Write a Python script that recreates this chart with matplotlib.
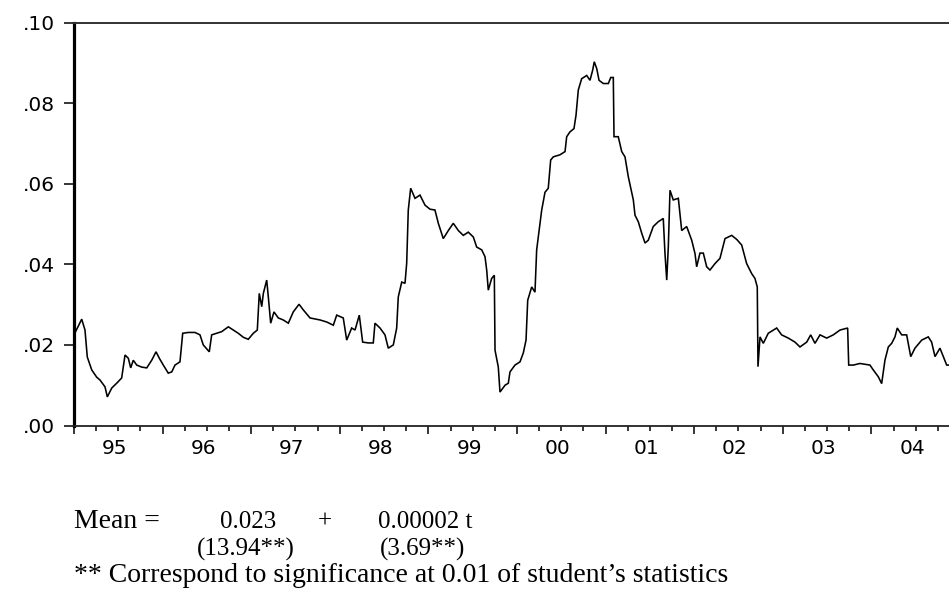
import matplotlib
matplotlib.use("Agg")
import matplotlib.pyplot as plt
import matplotlib.transforms as mtransforms
import numpy as np

# fractional years
t_years = [
    1995.000, 1995.087, 1995.124, 1995.150, 1995.200, 1995.256, 1995.293, 1995.350,
    1995.376, 1995.426, 1995.482, 1995.538, 1995.576, 1995.613, 1995.640, 1995.669,
    1995.708, 1995.764, 1995.821, 1995.877, 1995.926, 1995.963, 1996.008, 1996.064,
    1996.103, 1996.140, 1996.196, 1996.227, 1996.290, 1996.366, 1996.422, 1996.459,
    1996.527, 1996.554, 1996.611, 1996.667, 1996.742, 1996.798, 1996.854, 1996.911,
    1996.967, 1997.024, 1997.069, 1997.091, 1997.119, 1997.137, 1997.175, 1997.193,
    1997.220, 1997.257, 1997.306, 1997.362, 1997.419, 1997.475, 1997.540, 1997.588,
    1997.664, 1997.777, 1997.852, 1997.927, 1997.965, 1998.039, 1998.078, 1998.134,
    1998.172, 1998.220, 1998.258, 1998.322, 1998.378, 1998.397, 1998.454, 1998.510,
    1998.547, 1998.604, 1998.642, 1998.660, 1998.699, 1998.736, 1998.755, 1998.773,
    1998.800, 1998.849, 1998.905, 1998.962, 1999.018, 1999.074, 1999.112, 1999.168,
    1999.225, 1999.281, 1999.338, 1999.394, 1999.450, 1999.507, 1999.545, 1999.602,
    1999.639, 1999.658, 1999.676, 1999.714, 1999.744, 1999.752, 1999.789, 1999.808,
    1999.865, 1999.902, 1999.921, 1999.977, 2000.034, 2000.071, 2000.102, 2000.121,
    2000.166, 2000.203, 2000.222, 2000.260, 2000.279, 2000.316, 2000.353, 2000.380,
    2000.410, 2000.485, 2000.542, 2000.561, 2000.598, 2000.643, 2000.666, 2000.692,
    2000.730, 2000.787, 2000.824, 2000.854, 2000.872, 2000.900, 2000.926, 2000.974,
    2001.031, 2001.058, 2001.087, 2001.095, 2001.143, 2001.182, 2001.219, 2001.256,
    2001.313, 2001.332, 2001.369, 2001.407, 2001.445, 2001.482, 2001.538, 2001.595,
    2001.651, 2001.670, 2001.690, 2001.708, 2001.727, 2001.764, 2001.821, 2001.859,
    2001.915, 2001.972, 2002.009, 2002.028, 2002.065, 2002.103, 2002.141, 2002.178,
    2002.235, 2002.291, 2002.348, 2002.423, 2002.480, 2002.536, 2002.592, 2002.649,
    2002.686, 2002.712, 2002.720, 2002.743, 2002.780, 2002.836, 2002.931, 2002.987,
    2003.062, 2003.138, 2003.194, 2003.270, 2003.315, 2003.363, 2003.420, 2003.495,
    2003.570, 2003.646, 2003.732, 2003.744, 2003.796, 2003.871, 2003.984, 2004.021,
    2004.078, 2004.116, 2004.153, 2004.191, 2004.229, 2004.266, 2004.292, 2004.342,
    2004.398, 2004.444, 2004.492, 2004.568, 2004.642, 2004.680, 2004.718, 2004.774,
    2004.812, 2004.850, 2004.876,
]

values = [
    0.0225, 0.0264, 0.0237, 0.0170, 0.0138, 0.0120, 0.0113, 0.0096,
    0.0071, 0.0093, 0.0105, 0.0118, 0.0175, 0.0167, 0.0143, 0.0162,
    0.0150, 0.0145, 0.0143, 0.0162, 0.0183, 0.0167, 0.0150, 0.0130,
    0.0133, 0.0150, 0.0158, 0.0229, 0.0231, 0.0231, 0.0225, 0.0200,
    0.0183, 0.0225, 0.0229, 0.0233, 0.0245, 0.0237, 0.0229, 0.0219,
    0.0214, 0.0229, 0.0237, 0.0328, 0.0295, 0.0328, 0.0361, 0.0320,
    0.0254, 0.0282, 0.0267, 0.0262, 0.0254, 0.0282, 0.0301, 0.0287,
    0.0267, 0.0262, 0.0257, 0.0249, 0.0274, 0.0267, 0.0212, 0.0242,
    0.0237, 0.0274, 0.0207, 0.0205, 0.0205, 0.0254, 0.0242, 0.0225,
    0.0192, 0.0200, 0.0242, 0.0319, 0.0356, 0.0353, 0.0403, 0.0535,
    0.0589, 0.0564, 0.0572, 0.0547, 0.0537, 0.0535, 0.0502, 0.0464,
    0.0484, 0.0502, 0.0484, 0.0472, 0.0480, 0.0468, 0.0443, 0.0436,
    0.0419, 0.0386, 0.0336, 0.0365, 0.0373, 0.0187, 0.0145, 0.0083,
    0.0100, 0.0105, 0.0133, 0.0150, 0.0158, 0.0180, 0.0212, 0.0311,
    0.0344, 0.0331, 0.0436, 0.0502, 0.0535, 0.0579, 0.0589, 0.0659,
    0.0667, 0.0672, 0.0680, 0.0717, 0.0729, 0.0737, 0.0770, 0.0833,
    0.0861, 0.0869, 0.0857, 0.0882, 0.0903, 0.0886, 0.0857, 0.0849,
    0.0849, 0.0864, 0.0864, 0.0717, 0.0717, 0.0680, 0.0667, 0.0618,
    0.0560, 0.0522, 0.0506, 0.0478, 0.0453, 0.0460, 0.0494, 0.0506,
    0.0514, 0.0428, 0.0361, 0.0444, 0.0584, 0.0560, 0.0564, 0.0484,
    0.0494, 0.0460, 0.0427, 0.0394, 0.0428, 0.0428, 0.0394, 0.0386,
    0.0402, 0.0415, 0.0464, 0.0472, 0.0462, 0.0448, 0.0402, 0.0377,
    0.0365, 0.0344, 0.0146, 0.0220, 0.0204, 0.0229, 0.0242, 0.0225,
    0.0217, 0.0207, 0.0195, 0.0207, 0.0225, 0.0204, 0.0225, 0.0217,
    0.0225, 0.0237, 0.0242, 0.0150, 0.0150, 0.0154, 0.0150, 0.0138,
    0.0121, 0.0104, 0.0162, 0.0195, 0.0204, 0.0220, 0.0242, 0.0225,
    0.0225, 0.0171, 0.0192, 0.0212, 0.0220, 0.0207, 0.0171, 0.0192,
    0.0171, 0.0150, 0.0150,
]

years = list(range(1995, 2005))
year_labels = ["95", "96", "97", "98", "99", "00", "01", "02", "03", "04"]
y_ticks = [0.00, 0.02, 0.04, 0.06, 0.08, 0.10]
y_labels = [".00", ".02", ".04", ".06", ".08", ".10"]

line1_parts = ["Mean =", "0.023", "+", "0.00002 t"]
line2_parts = ["(13.94**)", "(3.69**)"]
footnote = "** Correspond to significance at 0.01 of student\u2019s statistics"

W, H = 949, 600
fig = plt.figure(figsize=(W / 100, H / 100), dpi=100)
ax = fig.add_axes([74 / W, 1 - 425.5 / H, (W - 74) / W, (425.5 - 22.7) / H])

ax.plot(t_years, values, color="black", lw=1.15, solid_joinstyle="miter")

ax.set_xlim(1995.0, 2004.876)
ax.set_ylim(0.0, 0.10)

ax.spines["right"].set_visible(False)
ax.spines["left"].set_linewidth(2.3)
ax.spines["left"].set_color("black")
ax.spines["top"].set_linewidth(1.4)
ax.spines["top"].set_color("#333333")
ax.spines["bottom"].set_linewidth(1.3)
ax.spines["bottom"].set_color("#222222")

ax.set_yticks(y_ticks)
ax.set_yticklabels(y_labels)
ax.tick_params(axis="y", direction="out", length=7.5, width=1.1, pad=6,
               labelsize=14.5, colors="black")

ax.set_xticks(years)
ax.set_xticklabels([""] * len(years))
ax.set_xticks([y + q / 4 for y in years for q in range(1, 4)], minor=True)
ax.tick_params(axis="x", which="major", direction="out", length=6, width=1.1)
ax.tick_params(axis="x", which="minor", direction="out", length=3.6, width=1.1)

trans = mtransforms.blended_transform_factory(ax.transData, fig.transFigure)
for yr, lab in zip(years, year_labels):
    ax.text(yr + 0.46, 1 - 448 / H, lab, transform=trans, ha="center", va="center",
            fontsize=14.5, color="black", clip_on=False)

serif = ["Liberation Serif", "DejaVu Serif"]
fs_num = 18
fs_txt = 20
fig.text(74 / W, 1 - 522 / H, line1_parts[0], family=serif, fontsize=fs_txt, va="center", ha="left")
fig.text(220 / W, 1 - 522 / H, line1_parts[1], family=serif, fontsize=fs_num, va="center", ha="left")
fig.text(325 / W, 1 - 522 / H, line1_parts[2], family=serif, fontsize=fs_num, va="center", ha="center")
fig.text(378 / W, 1 - 522 / H, line1_parts[3], family=serif, fontsize=fs_num, va="center", ha="left")
fig.text(197 / W, 1 - 549 / H, line2_parts[0], family=serif, fontsize=fs_num, va="center", ha="left")
fig.text(380 / W, 1 - 549 / H, line2_parts[1], family=serif, fontsize=fs_num, va="center", ha="left")
fig.text(74 / W, 1 - 576 / H, footnote, family=serif, fontsize=fs_txt, va="center", ha="left")

fig.savefig("out.png", dpi=100)
